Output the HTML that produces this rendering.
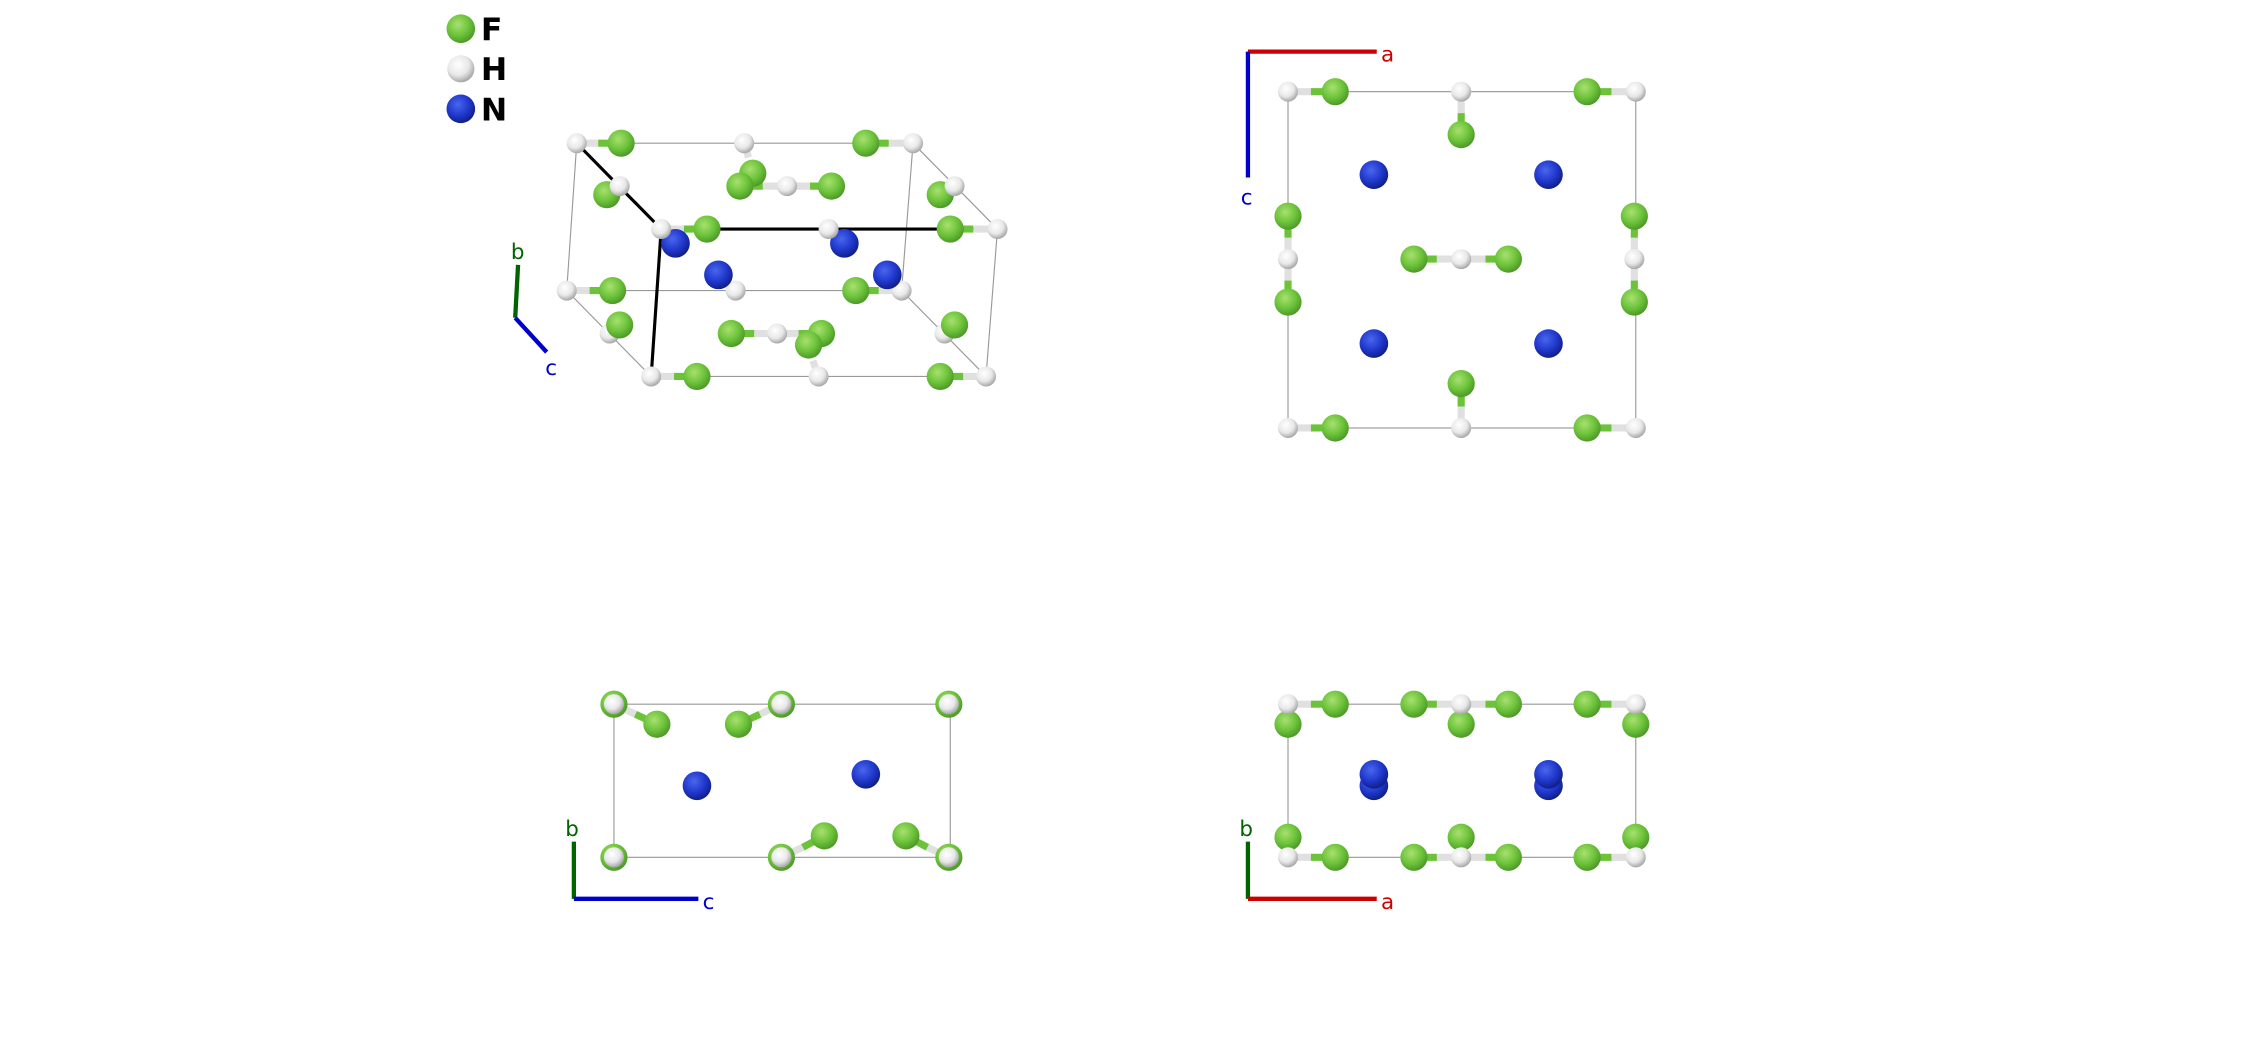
<!DOCTYPE html>
<html><head><meta charset="utf-8"><style>html,body{margin:0;padding:0;background:#fff}svg{display:block}</style></head>
<body>
<svg width="2244" height="1042" viewBox="0 0 1568 728" xmlns="http://www.w3.org/2000/svg" font-family="'DejaVu Sans','Liberation Sans',sans-serif">
<defs>
<radialGradient id="gF" cx="0.4" cy="0.35" r="0.65"><stop offset="0" stop-color="#a8e070"/><stop offset="0.6" stop-color="#6cc33a"/><stop offset="1" stop-color="#4e9a28"/></radialGradient>
<radialGradient id="gH" cx="0.4" cy="0.35" r="0.65"><stop offset="0" stop-color="#ffffff"/><stop offset="0.6" stop-color="#e8e8e8"/><stop offset="1" stop-color="#a8a8a8"/></radialGradient>
<radialGradient id="gN" cx="0.4" cy="0.35" r="0.65"><stop offset="0" stop-color="#4a66ee"/><stop offset="0.6" stop-color="#2038cc"/><stop offset="1" stop-color="#10208a"/></radialGradient>
<symbol id="F" overflow="visible"><circle r="9.5" fill="url(#gF)"/></symbol>
<symbol id="H" overflow="visible"><circle r="7" fill="url(#gH)"/></symbol>
<symbol id="N" overflow="visible"><circle r="10" fill="url(#gN)"/></symbol>
</defs>
<g fill="none" stroke="#999" stroke-width="0.8">
<!-- panel1 box -->
<polygon points="403,100 638,100 630,203 396,203"/>
<polygon points="462,160 697,160 689,263 455,263"/>
<line x1="638" y1="100" x2="697" y2="160"/><line x1="630" y1="203" x2="689" y2="263"/><line x1="396" y1="203" x2="455" y2="263"/>
<rect x="900" y="64" width="243" height="235"/>
<rect x="429" y="492" width="235" height="107"/>
<rect x="900" y="492" width="243" height="107"/>
</g>
<g stroke="#000" stroke-width="2.2"><line x1="403" y1="100" x2="462" y2="160"/><line x1="462" y1="160" x2="697" y2="160"/><line x1="462" y1="160" x2="455" y2="263"/></g>
<!-- bonds -->
<g stroke-width="5" stroke-linecap="butt">
<g stroke="#e0e0e0">
<line x1="403" y1="100" x2="418" y2="100"/><line x1="638" y1="100" x2="621" y2="100"/><line x1="520" y1="100" x2="523" y2="110"/>
<line x1="550" y1="130" x2="533" y2="130"/><line x1="550" y1="130" x2="566" y2="130"/><line x1="462" y1="160" x2="478" y2="160"/><line x1="697" y1="160" x2="680" y2="160"/>
<line x1="396" y1="203" x2="412" y2="203"/><line x1="630" y1="203" x2="614" y2="203"/><line x1="543" y1="233" x2="527" y2="233"/><line x1="543" y1="233" x2="558" y2="233"/><line x1="572" y1="263" x2="568" y2="252"/>
<line x1="455" y1="263" x2="471" y2="263"/><line x1="689" y1="263" x2="673" y2="263"/>
<line x1="900" y1="64" x2="916" y2="64"/><line x1="1021" y1="64" x2="1021" y2="79"/><line x1="1143" y1="64" x2="1126" y2="64"/>
<line x1="900" y1="181" x2="900" y2="166"/><line x1="900" y1="181" x2="900" y2="196"/><line x1="1142" y1="181" x2="1142" y2="166"/><line x1="1142" y1="181" x2="1142" y2="196"/>
<line x1="1021" y1="181" x2="1004" y2="181"/><line x1="1021" y1="181" x2="1038" y2="181"/><line x1="1021" y1="299" x2="1021" y2="284"/>
<line x1="900" y1="299" x2="916" y2="299"/><line x1="1143" y1="299" x2="1126" y2="299"/>
<line x1="429" y1="492" x2="444" y2="499"/><line x1="546" y1="492" x2="531" y2="499"/><line x1="546" y1="599" x2="561" y2="592"/><line x1="663" y1="599" x2="648" y2="592"/>
<line x1="900" y1="492" x2="916" y2="492"/><line x1="1021" y1="492" x2="1004" y2="492"/><line x1="1021" y1="492" x2="1038" y2="492"/><line x1="1143" y1="492" x2="1126" y2="492"/>
<line x1="900" y1="599" x2="916" y2="599"/><line x1="1021" y1="599" x2="1004" y2="599"/><line x1="1021" y1="599" x2="1038" y2="599"/><line x1="1143" y1="599" x2="1126" y2="599"/>
</g>
<g stroke="#6cc33a">
<line x1="418" y1="100" x2="434" y2="100"/><line x1="621" y1="100" x2="605" y2="100"/><line x1="533" y1="130" x2="517" y2="130"/><line x1="566" y1="130" x2="581" y2="130"/>
<line x1="478" y1="160" x2="494" y2="160"/><line x1="680" y1="160" x2="664" y2="160"/><line x1="412" y1="203" x2="428" y2="203"/><line x1="614" y1="203" x2="598" y2="203"/>
<line x1="527" y1="233" x2="511" y2="233"/><line x1="558" y1="233" x2="574" y2="233"/><line x1="471" y1="263" x2="487" y2="263"/><line x1="673" y1="263" x2="657" y2="263"/>
<line x1="916" y1="64" x2="933" y2="64"/><line x1="1021" y1="79" x2="1021" y2="94"/><line x1="1126" y1="64" x2="1109" y2="64"/>
<line x1="900" y1="166" x2="900" y2="151"/><line x1="900" y1="196" x2="900" y2="211"/><line x1="1142" y1="166" x2="1142" y2="151"/><line x1="1142" y1="196" x2="1142" y2="211"/>
<line x1="1004" y1="181" x2="988" y2="181"/><line x1="1038" y1="181" x2="1054" y2="181"/><line x1="1021" y1="284" x2="1021" y2="268"/>
<line x1="916" y1="299" x2="933" y2="299"/><line x1="1126" y1="299" x2="1109" y2="299"/>
<line x1="444" y1="499" x2="459" y2="506"/><line x1="531" y1="499" x2="516" y2="506"/><line x1="561" y1="592" x2="576" y2="584"/><line x1="648" y1="592" x2="633" y2="584"/>
<line x1="916" y1="492" x2="933" y2="492"/><line x1="1004" y1="492" x2="988" y2="492"/><line x1="1038" y1="492" x2="1054" y2="492"/><line x1="1126" y1="492" x2="1109" y2="492"/>
<line x1="916" y1="599" x2="933" y2="599"/><line x1="1004" y1="599" x2="988" y2="599"/><line x1="1038" y1="599" x2="1054" y2="599"/><line x1="1126" y1="599" x2="1109" y2="599"/>
</g>
</g>
<!-- panel1 atoms -->
<use href="#H" x="403" y="100"/><use href="#F" x="434" y="100"/>
<use href="#F" x="526" y="121"/><use href="#H" x="520" y="100"/>
<use href="#F" x="605" y="100"/><use href="#H" x="638" y="100"/>
<use href="#F" x="424" y="136"/><use href="#H" x="433" y="130"/>
<use href="#F" x="517" y="130"/><use href="#H" x="550" y="130"/><use href="#F" x="581" y="130"/>
<use href="#F" x="657" y="136"/><use href="#H" x="667" y="130"/>
<use href="#N" x="472" y="170"/><use href="#N" x="590" y="170"/>
<use href="#H" x="462" y="160"/><use href="#F" x="494" y="160"/>
<use href="#H" x="579" y="160"/><use href="#F" x="664" y="160"/><use href="#H" x="697" y="160"/>
<use href="#H" x="396" y="203"/><use href="#F" x="428" y="203"/>
<use href="#H" x="514" y="203"/><use href="#N" x="502" y="192"/>
<use href="#F" x="598" y="203"/><use href="#H" x="630" y="203"/><use href="#N" x="620" y="192"/>
<use href="#H" x="426" y="233"/><use href="#F" x="433" y="227"/>
<use href="#F" x="511" y="233"/><use href="#H" x="543" y="233"/><use href="#F" x="574" y="233"/>
<use href="#H" x="572" y="263"/><use href="#F" x="565" y="241"/>
<use href="#H" x="660" y="233"/><use href="#F" x="667" y="227"/>
<use href="#H" x="455" y="263"/><use href="#F" x="487" y="263"/>
<use href="#F" x="657" y="263"/><use href="#H" x="689" y="263"/>
<!-- panel2 -->
<use href="#H" x="900" y="64"/><use href="#F" x="933" y="64"/>
<use href="#H" x="1021" y="64"/><use href="#F" x="1021" y="94"/>
<use href="#F" x="1109" y="64"/><use href="#H" x="1143" y="64"/>
<use href="#N" x="960" y="122"/><use href="#N" x="1082" y="122"/>
<use href="#F" x="900" y="151"/><use href="#H" x="900" y="181"/><use href="#F" x="900" y="211"/>
<use href="#F" x="1142" y="151"/><use href="#H" x="1142" y="181"/><use href="#F" x="1142" y="211"/>
<use href="#F" x="988" y="181"/><use href="#H" x="1021" y="181"/><use href="#F" x="1054" y="181"/>
<use href="#N" x="960" y="240"/><use href="#N" x="1082" y="240"/>
<use href="#F" x="1021" y="268"/><use href="#H" x="1021" y="299"/>
<use href="#H" x="900" y="299"/><use href="#F" x="933" y="299"/>
<use href="#F" x="1109" y="299"/><use href="#H" x="1143" y="299"/>
<!-- panel3 -->
<use href="#F" x="429" y="492"/><use href="#H" x="429" y="492"/><use href="#F" x="459" y="506"/>
<use href="#F" x="546" y="492"/><use href="#H" x="546" y="492"/><use href="#F" x="516" y="506"/>
<use href="#F" x="663" y="492"/><use href="#H" x="663" y="492"/>
<use href="#N" x="487" y="549"/><use href="#N" x="605" y="541"/>
<use href="#F" x="429" y="599"/><use href="#H" x="429" y="599"/>
<use href="#F" x="546" y="599"/><use href="#H" x="546" y="599"/><use href="#F" x="576" y="584"/>
<use href="#F" x="633" y="584"/><use href="#F" x="663" y="599"/><use href="#H" x="663" y="599"/>
<!-- panel4 -->
<use href="#F" x="900" y="506"/><use href="#H" x="900" y="492"/><use href="#F" x="933" y="492"/>
<use href="#F" x="1021" y="506"/><use href="#F" x="988" y="492"/><use href="#H" x="1021" y="492"/><use href="#F" x="1054" y="492"/>
<use href="#F" x="1143" y="506"/><use href="#F" x="1109" y="492"/><use href="#H" x="1143" y="492"/>
<use href="#N" x="960" y="549"/><use href="#N" x="960" y="541"/><use href="#N" x="1082" y="549"/><use href="#N" x="1082" y="541"/>
<use href="#F" x="900" y="585"/><use href="#H" x="900" y="599"/><use href="#F" x="933" y="599"/>
<use href="#F" x="1021" y="585"/><use href="#F" x="988" y="599"/><use href="#H" x="1021" y="599"/><use href="#F" x="1054" y="599"/>
<use href="#F" x="1143" y="585"/><use href="#F" x="1109" y="599"/><use href="#H" x="1143" y="599"/>
<!-- axes -->
<g stroke-width="3" fill="none">
<line x1="360" y1="222" x2="362" y2="185" stroke="#006400"/><line x1="360" y1="222" x2="382" y2="246" stroke="#0000cc"/>
<line x1="872" y1="36" x2="962" y2="36" stroke="#cc0000"/><line x1="872" y1="36" x2="872" y2="124" stroke="#0000cc"/>
<line x1="401" y1="628" x2="401" y2="588" stroke="#006400"/><line x1="401" y1="628" x2="488" y2="628" stroke="#0000cc"/>
<line x1="872" y1="628" x2="872" y2="588" stroke="#006400"/><line x1="872" y1="628" x2="962" y2="628" stroke="#cc0000"/>
</g>
<g font-size="15">
<text x="357" y="181" fill="#006400">b</text><text x="381" y="262" fill="#0000cc">c</text>
<text x="965" y="43" fill="#cc0000">a</text><text x="867" y="143" fill="#0000cc">c</text>
<text x="395" y="584" fill="#006400">b</text><text x="491" y="635" fill="#0000cc">c</text>
<text x="866" y="584" fill="#006400">b</text><text x="965" y="635" fill="#cc0000">a</text>
</g>
<!-- legend -->
<use href="#F" x="322" y="20" transform="translate(322,20) scale(1.05) translate(-322,-20)"/>
<circle cx="322" cy="48" r="9.5" fill="url(#gH)"/>
<use href="#N" x="322" y="76"/>
<g font-size="22" font-weight="bold" fill="#000"><text x="336" y="28">F</text><text x="336" y="56">H</text><text x="336" y="84">N</text></g>
</svg>
</body></html>
